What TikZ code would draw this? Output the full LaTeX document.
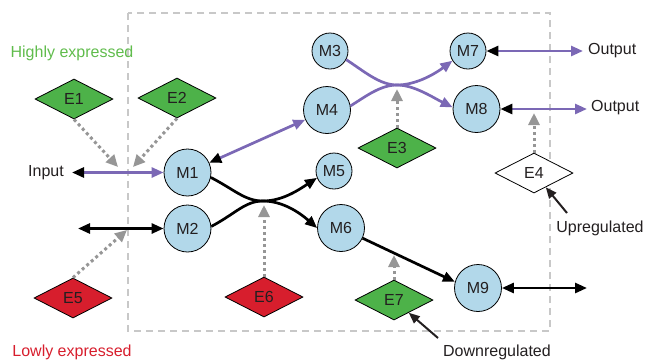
\documentclass[tikz,border=0pt]{standalone}
\usepackage{fontspec}
\setmainfont{Liberation Sans}
\usetikzlibrary{shapes.geometric,arrows.meta}
\definecolor{mblue}{RGB}{178,216,234}
\definecolor{egreen}{RGB}{77,178,73}
\definecolor{ered}{RGB}{215,30,45}
\definecolor{mpurple}{RGB}{123,104,181}
\definecolor{dgray}{RGB}{150,150,150}
\definecolor{boxgray}{RGB}{200,200,200}
\definecolor{tgreen}{RGB}{96,188,76}
\definecolor{tblack}{RGB}{35,31,32}
\begin{document}
\begin{tikzpicture}[x=1pt,y=-1pt,
  txt/.style={font=\fontsize{16}{19}\selectfont, text=tblack, inner sep=0pt},
  mnode/.style={circle, draw=black, line width=0.8pt, fill=mblue, inner sep=0pt, font=\fontsize{16}{19}\selectfont, text=tblack},
  bigm/.style={mnode, minimum size=47pt},
  smallm/.style={mnode, minimum size=36pt},
  enode/.style={diamond, draw=black, line width=0.8pt, minimum width=78pt, minimum height=40pt, inner sep=0pt, font=\fontsize{16}{19}\selectfont, text=tblack},
  pline/.style={draw=mpurple, line width=2.7pt, {Triangle[length=12pt,width=10pt,color=black]}-{Triangle[length=12pt,width=10pt]}},
  pend/.style={draw=mpurple, line width=2.7pt, -{Triangle[length=12pt,width=10pt]}},
  bline/.style={draw=black, line width=2.7pt, -{Triangle[length=12pt,width=10pt]}},
  bboth/.style={draw=black, line width=2.7pt, {Triangle[length=12pt,width=10pt]}-{Triangle[length=12pt,width=10pt]}},
  dotarrow/.style={draw=dgray, line width=3pt, dash pattern=on 3pt off 3pt, -{Triangle[length=12pt,width=11pt]}},
  note/.style={draw=tblack, line width=2pt, -{Triangle[length=11pt,width=9pt]}},
  dbox/.style={draw=boxgray, line width=1.3pt, dash pattern=on 7pt off 5pt}
]
\useasboundingbox (0,0) rectangle (646,360);

% dashed frame
\draw[dbox] (128,13) rectangle (550,331);

% labels
\node[txt, text=tgreen] (hi) at (72,53) {Highly expressed};
\node[txt, text=ered] (lo) at (72,352) {Lowly expressed};
\node[txt, anchor=east] (inp) at (64,172.5) {Input};
\node[txt, anchor=west] (out1) at (588,51) {Output};
\node[txt, anchor=west] (out2) at (591,108) {Output};
\node[txt] (up) at (600,228) {Upregulated};
\node[txt] (down) at (497,352) {Downregulated};

% M nodes
\node[bigm] (M1) at (187.5,172.5) {M1};
\node[bigm] (M2) at (187.5,228.5) {M2};
\node[smallm] (M3) at (330,51) {M3};
\node[bigm] (M4) at (327,110) {M4};
\node[smallm] (M5) at (334,171) {M5};
\node[bigm] (M6) at (341,228) {M6};
\node[smallm] (M7) at (468,51) {M7};
\node[bigm] (M8) at (476.5,109) {M8};
\node[bigm] (M9) at (478,288) {M9};

% E nodes
\node[enode, fill=egreen] (E1) at (74,99) {E1};
\node[enode, fill=egreen] (E2) at (177,98) {E2};
\node[enode, fill=egreen] (E3) at (397,148) {E3};
\node[enode, fill=white] (E4) at (534,173) {E4};
\node[enode, fill=ered] (E5) at (73,298) {E5};
\node[enode, fill=ered] (E6) at (264,297) {E6};
\node[enode, fill=egreen] (E7) at (394,300) {E7};

% free ends
\coordinate (inL) at (72,172.5);
\coordinate (m2L) at (78,228.5);
\coordinate (o1) at (583,51);
\coordinate (o2) at (587,109);
\coordinate (m9R) at (587,288);
\coordinate (X1) at (263,201);
\coordinate (X2) at (397,85);
\coordinate (t1) at (118,167);
\coordinate (t2) at (133,167);
\coordinate (t5) at (127,230);
\coordinate (t6) at (264,205);
\coordinate (t3) at (397,89);
\coordinate (t4) at (534,113);
\coordinate (t7) at (394,255);
\coordinate (upT) at (567,213);
\coordinate (dnT) at (438,338);

% purple connectors
\draw[pline] (inL) -- (M1);
\draw[pline] (M1) -- (M4);
\draw[pline] (M7) -- (o1);
\draw[pline] (M8) -- (o2);
\draw[pend] (M3.-28) .. controls (365,72) and (380,85) .. (X2) .. controls (414,85) and (432,97) .. (M8.176);
\draw[pend] (M4.10) .. controls (365,97) and (380,85) .. (X2) .. controls (414,85) and (432,76) .. (M7.212);

% black connectors
\draw[bboth] (m2L) -- (M2);
\draw[bboth] (M9) -- (m9R);
\draw[bline] (M1.-12) .. controls (235,190) and (245,201) .. (X1) .. controls (283,201) and (300,213) .. (M6.west);
\draw[bline] (M2.5) .. controls (235,214) and (245,201) .. (X1) .. controls (283,201) and (300,189) .. (M5.202);
\draw[bline] (M6) -- (M9.165);

% dotted regulation arrows
\draw[dotarrow] (E1.south) -- (t1);
\draw[dotarrow] (E2.south) -- (t2);
\draw[dotarrow] (E5.north) -- (t5);
\draw[dotarrow] (E6.north) -- (t6);
\draw[dotarrow] (E3.north) -- (t3);
\draw[dotarrow] (E4.north) -- (t4);
\draw[dotarrow] (E7.north) -- (t7);

% annotation arrows
\draw[note] (upT) -- (E4);
\draw[note] (dnT) -- (E7);
\end{tikzpicture}
\end{document}
